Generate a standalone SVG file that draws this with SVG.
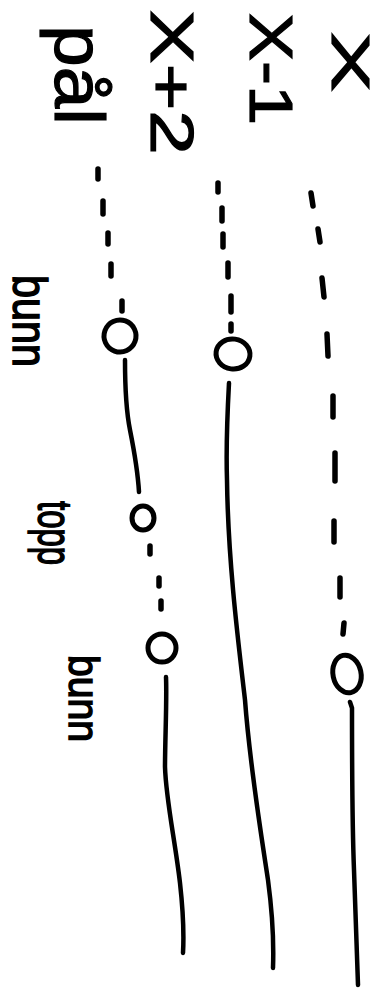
<svg xmlns="http://www.w3.org/2000/svg" width="382" height="994" viewBox="0 0 382 994">
<style>
.ink{fill:none;stroke:#000;stroke-linecap:round;stroke-linejoin:round}
.line{stroke-width:4.5}
.dash{stroke-width:5.5}
.node{fill:none;stroke:#000;stroke-width:5}
.hdr{font-family:"Liberation Sans",Arial,sans-serif;fill:#000;stroke:#000;stroke-width:1.2}
.lbl{font-family:"Liberation Sans",Arial,sans-serif;fill:#000;stroke:#000;stroke-width:1.5}
</style>
<rect width="382" height="994" fill="#fff"/>
<g id="headers">
<text class="hdr" font-size="54" textLength="60" lengthAdjust="spacingAndGlyphs" transform="translate(332,32) rotate(90)">X</text>
<text class="hdr" font-size="62" textLength="112" lengthAdjust="spacingAndGlyphs" transform="translate(250,13) rotate(90)">X-1</text>
<text class="hdr" font-size="62" textLength="145" lengthAdjust="spacingAndGlyphs" transform="translate(151,10) rotate(90)">X+2</text>
<text class="hdr" font-size="70" textLength="100" lengthAdjust="spacingAndGlyphs" transform="translate(55,25) rotate(90)">pål</text>
</g>
<g id="labels">
<text id="label-bunn-1" class="lbl" font-size="48" textLength="92" lengthAdjust="spacingAndGlyphs" transform="translate(13,275) rotate(90)">bunn</text>
<text id="label-topp" class="lbl" font-size="48" textLength="64" lengthAdjust="spacingAndGlyphs" transform="translate(38,501) rotate(90)">topp</text>
<text id="label-bunn-2" class="lbl" font-size="42" textLength="87" lengthAdjust="spacingAndGlyphs" transform="translate(69,655) rotate(90)">bunn</text>
</g>
<g id="connectors">
<!-- X line -->
<g class="ink dash">
<path d="M311,193 L313,206"/>
<path d="M318,229 L320,242"/>
<path d="M322,278 L324,297"/>
<path d="M327,334 L328,356"/>
<path d="M333,396 L333,417"/>
<path d="M335,453 L335,481"/>
<path d="M334,521 L334,542"/>
<path d="M340,578 L340,597"/>
<path d="M344,623 L343,634"/>
</g>
<path class="ink line" d="M350,702 L352,708 C352,760 352,820 354,870 C356,920 357,960 358,985"/>
<!-- X-1 line -->
<g class="ink dash">
<path d="M218,183 L218,192"/>
<path d="M222,208 L222,221"/>
<path d="M223,234 L223,247"/>
<path d="M228,263 L228,277"/>
<path d="M231,296 L231,312"/>
<path d="M231,324 L231,331"/>
</g>
<path class="ink line" d="M229,383 C227,420 226,450 227,480 C228,560 238,640 245,700 C250,767 262,840 268,880 C272,910 274,940 273,968"/>
<!-- X+2 line -->
<g class="ink dash">
<path d="M98,169 L98,179"/>
<path d="M103,201 L103,214"/>
<path d="M108,233 L108,244"/>
<path d="M111,264 L111,276"/>
<path d="M122,301 L122,311"/>
<path d="M150,546 L150,554"/>
<path d="M159,578 L159,586"/>
<path d="M161,601 L161,609"/>
</g>
<path class="ink line" d="M125,360 C125,390 126,410 130,430 C135,455 138,475 139,492"/>
<path class="ink line" d="M166,677 C167,700 165,740 165,767 C166,800 175,840 180,883 C183,910 184,935 183,953"/>
</g>
<g id="node-x">
<ellipse class="node" cx="347" cy="674" rx="14" ry="19" transform="rotate(-12 347 674)"/>
</g>
<g id="node-x-1">
<ellipse class="node" cx="233" cy="354" rx="17" ry="15" transform="rotate(8 233 354)"/>
</g>
<g id="node-x2-a">
<ellipse class="node" cx="120" cy="336" rx="16" ry="16" transform="rotate(20 120 336)"/>
</g>
<g id="node-x2-b">
<ellipse class="node" cx="143" cy="518" rx="11" ry="12"/>
</g>
<g id="node-x2-c">
<ellipse class="node" cx="162" cy="648" rx="14" ry="14"/>
</g>
</svg>
